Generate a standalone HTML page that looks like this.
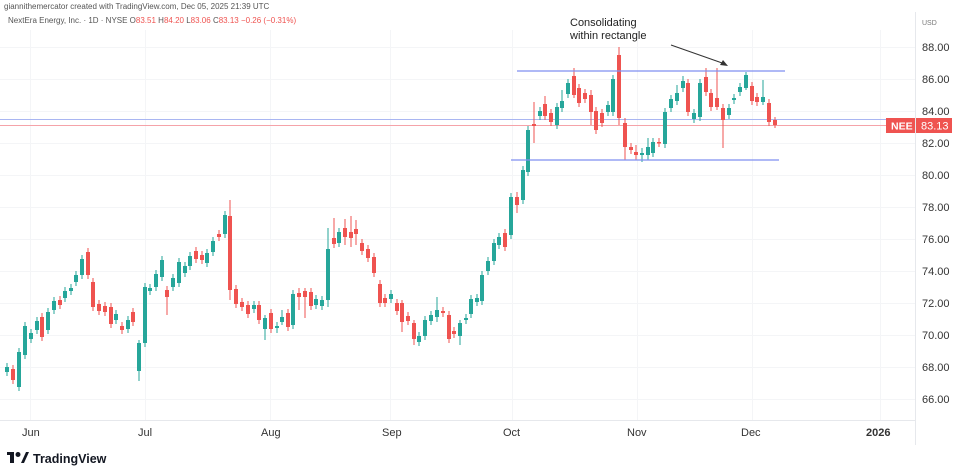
<!DOCTYPE html>
<html><head><meta charset="utf-8"><style>
body{margin:0;background:#fff;width:960px;height:475px;overflow:hidden;font-family:"Liberation Sans",sans-serif}
svg{display:block}
</style></head><body>
<svg id="s" width="960" height="475" xmlns="http://www.w3.org/2000/svg" font-family="Liberation Sans, sans-serif">
<rect width="960" height="475" fill="#fff"/>
<g id="grid" stroke="#f4f5f7" stroke-width="1"></g>
<line x1="915.5" y1="12" x2="915.5" y2="445" stroke="#e6e8ec"/>
<line x1="0" y1="420.5" x2="915" y2="420.5" stroke="#e6e8ec"/>
<text x="4" y="9" font-size="8" fill="#555">giannithemercator created with TradingView.com, Dec 05, 2025 21:39 UTC</text>
<text x="8" y="23" font-size="8" fill="#555">NextEra Energy, Inc. · 1D · NYSE  <tspan fill="#555">O</tspan><tspan fill="#ef5350">83.51</tspan> <tspan fill="#555">H</tspan><tspan fill="#ef5350">84.20</tspan> <tspan fill="#555">L</tspan><tspan fill="#ef5350">83.06</tspan> <tspan fill="#555">C</tspan><tspan fill="#ef5350">83.13 −0.26 (−0.31%)</tspan></text>
<text x="922" y="25" font-size="7" fill="#777">USD</text>
<g id="yl" font-size="11" fill="#333"></g>
<g font-size="11" fill="#333">
<text x="22" y="436">Jun</text><text x="138" y="436">Jul</text><text x="261" y="436">Aug</text>
<text x="382" y="436">Sep</text><text x="503" y="436">Oct</text><text x="627" y="436">Nov</text>
<text x="741" y="436">Dec</text><text x="866" y="436" font-weight="bold">2026</text>
</g>
<line x1="0" y1="119.5" x2="915" y2="119.5" stroke="#a9b6f2" stroke-width="1"/>
<line x1="0" y1="125.5" x2="915" y2="125.5" stroke="#f5a3a9" stroke-width="1"/>
<g id="c"></g>
<line x1="517" y1="71" x2="785" y2="71" stroke="#7f8ff0" stroke-width="1.2"/>
<line x1="511" y1="160" x2="779" y2="160" stroke="#7f8ff0" stroke-width="1.2"/>
<text x="570" y="26" font-size="11" fill="#222">Consolidating</text>
<text x="570" y="39" font-size="11" fill="#222">within rectangle</text>
<line x1="671" y1="45" x2="725" y2="64" stroke="#333" stroke-width="1"/>
<path d="M728,66 L720,65 L723,60 Z" fill="#333"/>
<rect x="886" y="118" width="29" height="15" fill="#ef5350"/>
<text x="891" y="129.5" font-size="10.5" fill="#fff" font-weight="bold">NEE</text>
<rect x="916" y="118" width="36" height="15" fill="#ef5350"/>
<text x="921" y="129.5" font-size="11" fill="#fff">83.13</text>
<g transform="translate(7,452)">
<rect x="0" y="0" width="7" height="3" fill="#131722"/><rect x="3" y="0" width="4" height="11" fill="#131722"/>
<circle cx="11" cy="2.5" r="2.5" fill="#131722"/><path d="M14,11 L19,0 L22,0 L17,11 Z" fill="#131722"/>
</g>
<text x="33" y="463" font-size="12.5" font-weight="bold" fill="#131722">TradingView</text>
</svg>
<script>
const ns="http://www.w3.org/2000/svg";
function el(t,a,p){const e=document.createElementNS(ns,t);for(const k in a)e.setAttribute(k,a[k]);p.appendChild(e);return e;}
const g=document.getElementById('grid'),yl=document.getElementById('yl');
for(let p=66;p<=88;p+=2){const y=47+(88-p)*16;el('line',{x1:0,y1:y+.5,x2:915,y2:y+.5},g);
 const t=el('text',{x:922,y:y+4},yl);t.textContent=p.toFixed(2);}
[30,145,270,390,512,637,752,880].forEach(x=>el('line',{x1:x+.5,y1:30,x2:x+.5,y2:420},g));
const d=[
[7,367,372,1],[13,369,380,0],[19,352,387,1],[25,326,355,1],[31,333,339,1],[37,321,330,1],[42,317,337,0],[48,312,330,1],[54,301,310,1],[60,300,305,0],[65,291,298,1],[71,288,291,1],[76,275,282,1],[82,259,275,1],[88,252,275,0],[93,282,307,0],[99,304,311,0],[105,306,312,0],[111,307,324,0],[116,314,320,1],[122,326,330,0],[128,320,329,1],[133,312,322,0],[139,343,371,1,340,381],[145,287,343,1],[150,288,291,1],[156,274,287,1],[162,260,277,1],[167,290,297,0,286,315],[173,278,287,1],[179,262,283,1],[185,266,273,1],[190,256,266,1],[196,251,259,0],[202,255,260,0],[207,253,263,1],[213,241,252,1],[219,234,237,0],[225,215,234,1],[230,216,290,0,200,300],[236,289,304,0],[242,302,307,0],[248,305,314,0],[254,305,309,1],[259,305,320,0],
[265,318,329,1,315,340],[271,313,329,0],[277,326,328,1,322,333],[282,317,322,1,310,325],[288,313,327,0],[293,294,325,1],[299,293,297,0,288,310],[305,291,297,0,288,318],[311,292,306,0],[316,299,305,1],[322,300,306,1],[328,249,300,1,228,307],[334,238,244,0,218,248],[339,232,243,1],[345,228,237,0,219,245],[351,232,238,0,216,247],[356,229,234,0,220,245],[362,243,251,0],[368,249,258,0],[374,257,273,0],[380,284,303,0],[385,298,303,0],[391,294,299,1],[397,303,311,0],[402,303,322,0,300,332],[408,316,321,0],[414,323,339,0,320,345],[419,336,342,1],[425,320,336,1],[431,315,321,1],[437,310,317,1,297,322],[443,311,313,0],[449,315,339,0],[454,331,334,0],[460,323,336,1,320,345],[466,318,320,1],[471,299,314,1],[477,298,302,1],[482,275,301,1],[488,261,271,1],[494,243,261,1],[499,237,245,1],[505,233,247,0],[511,197,235,1],[517,197,205,0,192,213],[523,170,200,1],[528,130,172,1],
[534,124,126,0,102,143],[540,111,116,1],[545,104,116,0,96,120],[551,113,122,0],[557,107,125,1],[562,101,108,1,90,112],[568,83,94,1],[574,76,95,0,68,98],[579,88,103,0],[585,93,99,0],[591,95,112,0,90,125],[596,111,130,0],[602,113,123,0],[608,105,112,1],[613,79,112,1],[619,55,118,0,47,125],[625,123,147,0,118,160],[631,147,150,0],[636,152,155,0,145,160],[642,153,155,1,148,162],[648,147,155,1,138,160],[653,142,153,1],[659,142,143,0],[665,112,144,1],[671,99,108,1],[677,93,101,1,85,105],[683,81,88,1,76,92],[688,83,112,0],[694,113,119,1],[700,83,117,1],[706,77,92,0,68,96],[711,93,107,0],[717,98,107,0,68,110],[723,108,120,0,104,148],[729,108,115,1],[734,98,100,1],[740,87,92,1],[746,75,88,1,72,90],[752,86,101,0],[757,97,102,0],[763,97,102,1,80,105],[769,103,122,0],[775,120,125,0,117,128]
];
const c=document.getElementById('c');
d.forEach(r=>{const[x,t,b,gr]=r;const col=gr?'#26a69a':'#ef5350';
 const wt=r[4]!==undefined?r[4]:t-4,wb=r[5]!==undefined?r[5]:b+4;
 el('line',{x1:x,y1:wt,x2:x,y2:wb,stroke:col,'stroke-width':1},c);
 el('rect',{x:x-2,y:t,width:4,height:Math.max(1.5,b-t),fill:col},c);});
</script>
</body></html>
